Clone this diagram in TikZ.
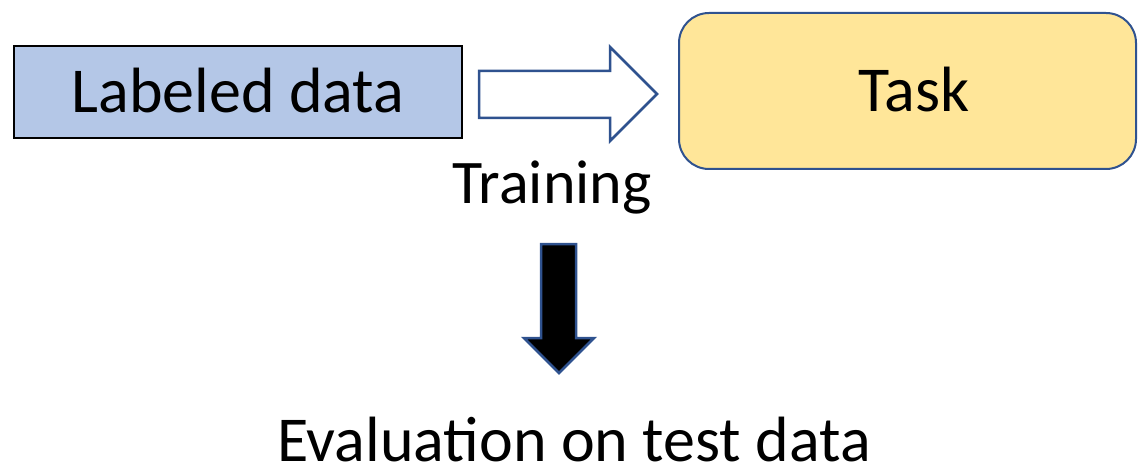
\documentclass[tikz,border=0pt]{standalone}
\usepackage{fontspec}
\setmainfont{Carlito}
\definecolor{databg}{HTML}{B4C7E7}
\definecolor{taskbg}{HTML}{FFE699}
\definecolor{edgeblue}{HTML}{2F528F}
\tikzset{
  x=1pt, y=-1pt,
  box/.style={draw, line width=2pt, inner sep=0pt},
  blockarrow/.style={draw=edgeblue, line width=2.5pt, line join=miter},
  lbl/.style={anchor=base, inner sep=0pt, text depth=0pt, font=\fontsize{64}{68}\selectfont},
}
\begin{document}
\begin{tikzpicture}
\useasboundingbox (0,0) rectangle (1138,468);

% input data box
\draw[box, draw=black, fill=databg] (14,46) rectangle (462,138);
\node[lbl] (data) at (238,113) {Labeled data};

% task box
\draw[box, draw=edgeblue, fill=taskbg, rounded corners=30pt] (679,13) rectangle (1136,169);
\node[lbl] (task) at (914,112) {Task};

% training arrow (outlined)
\draw[blockarrow, fill=white]
  (479,71) -- (610,71) -- (610,47) -- (657,94) -- (610,141) -- (610,118) -- (479,118) -- cycle;
\node[lbl, font=\fontsize{62}{66}\selectfont] (train) at (552,204) {Training};

% evaluation arrow (solid)
\draw[blockarrow, fill=black]
  (541,244) -- (576,244) -- (576,338) -- (594,338) -- (559,373) -- (524,338) -- (541,338) -- cycle;
\node[lbl] (eval) at (574,461) {Evaluation on test data};
\end{tikzpicture}
\end{document}
